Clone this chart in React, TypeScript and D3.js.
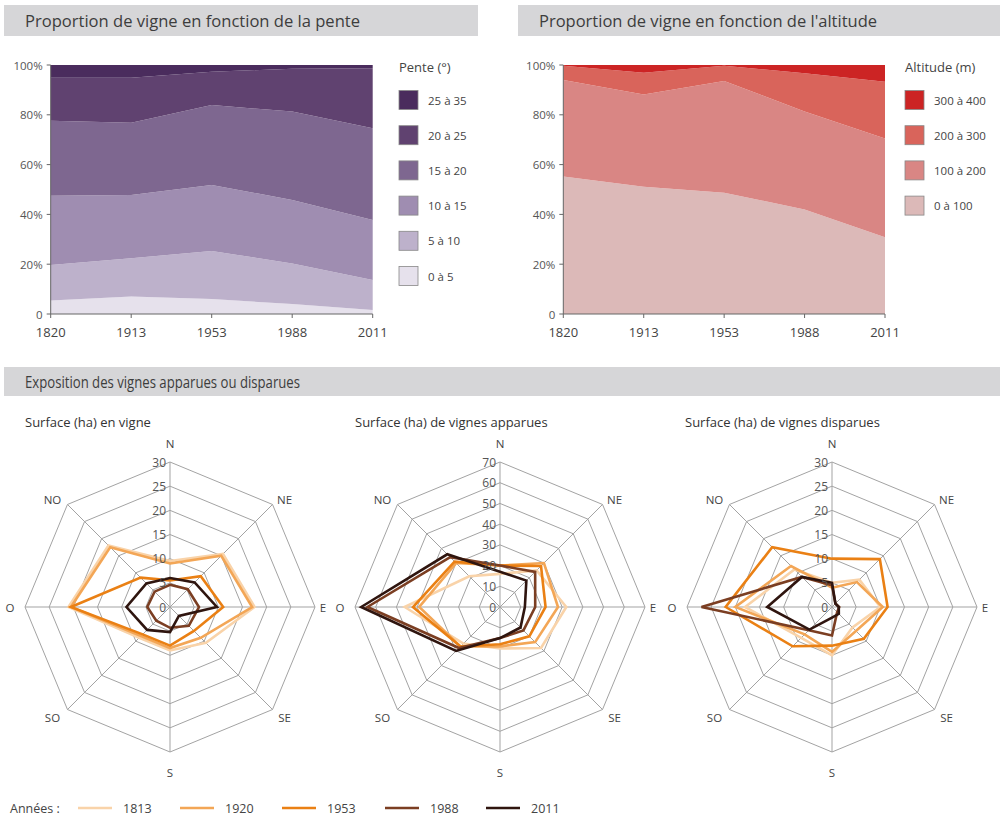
import React from "react";
import * as d3 from "d3";

// ---------- DATA ----------
const years = ["1820", "1913", "1953", "1988", "2011"];

// Pente (%)
const slopeKeys = ["0 à 5", "5 à 10", "10 à 15", "15 à 20", "20 à 25", "25 à 35"];
const slope0to5 = [5.4, 7, 6, 4, 1.6];
const slope5to10 = [14.3, 15.4, 19.3, 16.3, 12.1];
const slope10to15 = [27.8, 25.4, 26.5, 25.5, 24.1];
const slope15to20 = [30.1, 29, 32.1, 35.5, 36.8];
const slope20to25 = [17.3, 18.1, 13.4, 17.2, 24.1];
const slope25to35 = [5.1, 5.1, 2.7, 1.5, 1.3];
const slopeSeries = [slope0to5, slope5to10, slope10to15, slope15to20, slope20to25, slope25to35];

// Altitude (%)
const altKeys = ["0 à 100", "100 à 200", "200 à 300", "300 à 400"];
const alt0to100 = [55.2, 51.1, 48.7, 42, 30.8];
const alt100to200 = [38.8, 37.1, 44.9, 39.3, 39.7];
const alt200to300 = [5.7, 8.7, 6.1, 15.4, 22.8];
const alt300to400 = [0.3, 3.1, 0.3, 3.3, 6.7];
const altSeries = [alt0to100, alt100to200, alt200to300, alt300to400];

const pctTicks = [0, 20, 40, 60, 80, 100];

// Radar
const directions = ["N", "NE", "E", "SE", "S", "SO", "O", "NO"];
const radarYears = ["1813", "1920", "1953", "1988", "2011"];

// Surface (ha) en vigne
const vigne1813 = [9.5, 15.5, 17.5, 10.5, 9, 9, 21, 18];
const vigne1920 = [9, 15, 17, 9, 8.5, 8.5, 20.5, 17.5];
const vigne1953 = [5.5, 9, 11, 7, 8, 8, 20.5, 8.6];
const vigne1988 = [4.6, 5.2, 6, 5.5, 4.3, 4, 4.7, 4.5];
const vigne2011 = [6, 7.2, 9.7, 2.6, 5.2, 6.7, 9, 6.9];
const vigneTicks = [0, 5, 10, 15, 20, 25, 30];

// Surface (ha) de vignes apparues
const app1813 = [16, 25, 32, 28, 20, 25, 46, 21];
const app1920 = [20, 30, 28, 24, 19, 27, 39, 30];
const app1953 = [20, 28, 22, 20, 18, 27, 42, 31];
const app1988 = [20, 24, 17, 16, 15, 28, 64, 34];
const app2011 = [17, 18, 12, 14, 15, 30, 67, 36];
const appTicks = [0, 10, 20, 30, 40, 50, 60, 70];

// Surface (ha) de vignes disparues
const disp1813 = [5, 8, 10, 6, 10, 9, 18, 11];
const disp1920 = [4, 7.3, 10.5, 7, 9.3, 8, 20, 12];
const disp1953 = [10, 14, 11.5, 9.3, 8, 11.5, 22, 17.5];
const disp1988 = [4.5, 1, 1.5, 1.5, 5.9, 6.8, 27, 8.8];
const disp2011 = [5, 1, 1.4, 2, 2.2, 6.6, 13.4, 8.8];
const dispTicks = [0, 5, 10, 15, 20, 25, 30];

// ---------- STYLES ----------
const FONT = "'Open Sans', 'Noto Sans', sans-serif";
const HEAD_FONT = "'Open Sans', sans-serif";
const slopeColors = ["#e6e1ec", "#bdb1cb", "#9f8db1", "#7e6790", "#604270", "#4a2c5d"];
const altColors = ["#dcb9b8", "#d98684", "#d9645b", "#cc2424"];
const yearColors = ["#f9d3a9", "#f3a656", "#ea8014", "#7b3e22", "#2f150f"];

type AreaProps = {
  x0: number; x1: number; yTop: number; yBot: number;
  series: number[][]; keys: string[]; colors: string[];
  legendX: number; legendTitle: string;
};

function AreaChart(p: AreaProps) {
  const x = d3.scalePoint<string>().domain(years).range([p.x0, p.x1]);
  const y = d3.scaleLinear().domain([0, 100]).range([p.yBot, p.yTop]);
  const rows = years.map((yr, i) => {
    const r: any = { year: yr };
    p.keys.forEach((k, j) => (r[k] = p.series[j][i]));
    return r;
  });
  const stacked = d3.stack<any>().keys(p.keys)(rows);
  const area = d3
    .area<any>()
    .x((d) => x(d.data.year) as number)
    .y0((d) => y(d[0]))
    .y1((d) => y(Math.min(100, d[1])));
  const legendOrder = [...p.keys.keys()].reverse();
  return (
    <g fontFamily={FONT}>
      {stacked.map((s, i) => (
        <path key={i} d={area(s) as string} fill={p.colors[i]} />
      ))}
      <line x1={p.x0} x2={p.x0} y1={p.yTop} y2={p.yBot} stroke="#666" strokeWidth={1} />
      <line x1={p.x0} x2={p.x1} y1={p.yBot} y2={p.yBot} stroke="#666" strokeWidth={1} />
      {pctTicks.map((t) => (
        <g key={t}>
          <line x1={p.x0 - 4} x2={p.x0} y1={y(t)} y2={y(t)} stroke="#666" />
          <text x={p.x0 - 8} y={y(t)} textAnchor="end" dominantBaseline="central" fontSize={11.5} fill="#555">
            {t === 0 ? "0" : `${t}%`}
          </text>
        </g>
      ))}
      {years.map((yr) => (
        <g key={yr}>
          <line x1={x(yr)} x2={x(yr)} y1={p.yBot} y2={p.yBot + 4} stroke="#666" />
          <text x={x(yr)} y={p.yBot + 18} textAnchor="middle" dominantBaseline="central" fontSize={13} fill="#444">
            {yr}
          </text>
        </g>
      ))}
      <text x={p.legendX} y={67} dominantBaseline="central" fontSize={13} fill="#444">
        {p.legendTitle}
      </text>
      {legendOrder.map((ki, j) => {
        const cy = 100 + j * 35.2;
        return (
          <g key={ki}>
            <rect x={p.legendX} y={cy - 9.5} width={19} height={19} fill={p.colors[ki]} stroke="#888" strokeWidth={0.8} />
            <text x={p.legendX + 29} y={cy} dominantBaseline="central" fontSize={11.5} fill="#444">
              {p.keys[ki]}
            </text>
          </g>
        );
      })}
    </g>
  );
}

type RadarProps = {
  cx: number; cy: number; max: number; ticks: number[];
  series: number[][]; title: string; titleX: number;
};

function Radar(p: RadarProps) {
  const R = 145;
  const r = d3.scaleLinear().domain([0, p.max]).range([0, R]);
  const ang = (i: number) => (i * Math.PI) / 4;
  const pt = (i: number, rad: number): [number, number] => [
    p.cx + rad * Math.sin(ang(i)),
    p.cy - rad * Math.cos(ang(i)),
  ];
  const line = d3
    .lineRadial<number>()
    .angle((_, i) => ang(i))
    .radius((d) => r(d))
    .curve(d3.curveLinearClosed);
  const ring = (v: number) =>
    directions.map((_, i) => pt(i, r(v)).join(",")).join(" ");
  const labelPos = (i: number): [number, number] => {
    const [vx, vy] = pt(i, R);
    const d = directions[i];
    if (d === "N") return [vx, vy - 19];
    if (d === "S") return [vx, vy + 20];
    if (d === "E") return [vx + 8, vy];
    if (d === "O") return [vx - 15, vy];
    if (d === "NE") return [vx + 12, vy - 5];
    if (d === "SE") return [vx + 12, vy + 8];
    if (d === "NO") return [vx - 15, vy - 5];
    return [vx - 15, vy + 8];
  };
  return (
    <g fontFamily={FONT}>
      <text x={p.titleX} y={422} dominantBaseline="central" fontSize={13} fill="#333">
        {p.title}
      </text>
      {p.ticks.filter((t) => t > 0).map((t) => (
        <polygon key={t} points={ring(t)} fill="none" stroke="#a3a3a3" strokeWidth={1} />
      ))}
      {directions.map((_, i) => {
        const [x2, y2] = pt(i, R);
        return <line key={i} x1={p.cx} y1={p.cy} x2={x2} y2={y2} stroke="#a3a3a3" strokeWidth={1} />;
      })}
      {p.series.map((s, k) => (
        <path
          key={k}
          d={line(s) as string}
          transform={`translate(${p.cx},${p.cy})`}
          fill="none"
          stroke={yearColors[k]}
          strokeWidth={2.6}
          strokeLinejoin="miter"
        />
      ))}
      {p.ticks.map((t) => (
        <text key={t} x={p.cx - 4} y={p.cy - r(t)} textAnchor="end" dominantBaseline="central" fontSize={12} fill="#555">
          {t}
        </text>
      ))}
      {directions.map((d, i) => {
        const [lx, ly] = labelPos(i);
        return (
          <text key={d} x={lx} y={ly} textAnchor="middle" dominantBaseline="central" fontSize={11.5} fill="#444">
            {d}
          </text>
        );
      })}
    </g>
  );
}

function Header({ x, y, w, h, text, len }: { x: number; y: number; w: number; h: number; text: string; len: number }) {
  return (
    <g>
      <rect x={x} y={y} width={w} height={h} fill="#d6d6d8" />
      <text
        x={x + 21}
        y={y + h / 2}
        dominantBaseline="central"
        fontFamily={HEAD_FONT}
        fontSize={16}
        fill="#3d3d3d"
        textLength={len}
        lengthAdjust="spacingAndGlyphs"
      >
        {text}
      </text>
    </g>
  );
}

export default function App() {
  const legendStarts = [78, 180, 282, 385, 486];
  return (
    <svg
      width={1000}
      height={817}
      style={{ position: "absolute", left: 0, top: 0, background: "#fff" }}
      fontFamily={FONT}
    >
      <rect x={0} y={0} width={1000} height={817} fill="#fff" />
      <Header x={4} y={5} w={474} h={31} len={335} text="Proportion de vigne en fonction de la pente" />
      <Header x={518} y={5} w={482} h={31} len={338} text="Proportion de vigne en fonction de l'altitude" />
      <Header x={4} y={367} w={996} h={29} len={275} text="Exposition des vignes apparues ou disparues" />

      <AreaChart
        x0={50.7} x1={372.7} yTop={65} yBot={314}
        series={slopeSeries} keys={slopeKeys} colors={slopeColors}
        legendX={399} legendTitle="Pente (°)"
      />
      <AreaChart
        x0={563.3} x1={885} yTop={65} yBot={314}
        series={altSeries} keys={altKeys} colors={altColors}
        legendX={905} legendTitle="Altitude (m)"
      />

      <Radar cx={170} cy={607} max={30} ticks={vigneTicks}
        series={[vigne1813, vigne1920, vigne1953, vigne1988, vigne2011]}
        title="Surface (ha) en vigne" titleX={25} />
      <Radar cx={500} cy={607} max={70} ticks={appTicks}
        series={[app1813, app1920, app1953, app1988, app2011]}
        title="Surface (ha) de vignes apparues" titleX={355} />
      <Radar cx={832} cy={607} max={30} ticks={dispTicks}
        series={[disp1813, disp1920, disp1953, disp1988, disp2011]}
        title="Surface (ha) de vignes disparues" titleX={685} />

      <text x={10} y={808} dominantBaseline="central" fontSize={12.5} fill="#444">Années :</text>
      {radarYears.map((yr, k) => (
        <g key={yr}>
          <line x1={legendStarts[k]} x2={legendStarts[k] + 34} y1={808} y2={808} stroke={yearColors[k]} strokeWidth={2.6} />
          <text x={legendStarts[k] + 45} y={808} dominantBaseline="central" fontSize={12.5} fill="#444">{yr}</text>
        </g>
      ))}
    </svg>
  );
}
